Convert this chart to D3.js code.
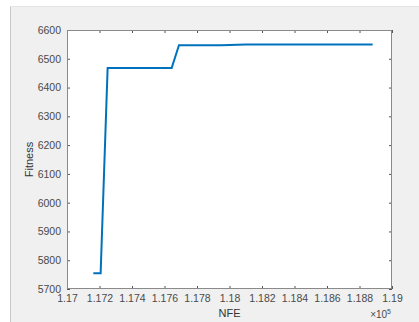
<!DOCTYPE html>
<html><head><meta charset="utf-8">
<script src="https://cdn.jsdelivr.net/npm/d3@7"></script>
<style>html,body{margin:0;padding:0;background:#fff;}svg{display:block;}</style>
</head><body>
<svg id="c" width="419" height="322"></svg>
<script>
const nfe     = [117162, 117207, 117250, 117644, 117689, 117950, 118100, 118881];
const fitness = [5755,   5755,   6468,   6468,   6547,   6547,   6550,   6550];
const xTicks = [1.17,1.172,1.174,1.176,1.178,1.18,1.182,1.184,1.186,1.188,1.19];
const yTicks = [5700,5800,5900,6000,6100,6200,6300,6400,6500,6600];
const xLabel = "NFE", yLabel = "Fitness";

const svg = d3.select("#c");
// figure background
svg.append("rect").attr("x",10).attr("y",6).attr("width",409).attr("height",316).attr("fill","#f0f0f0");
svg.append("line").attr("x1",10.5).attr("x2",10.5).attr("y1",6).attr("y2",322).attr("stroke","#c8c8c8");
svg.append("line").attr("x1",10).attr("x2",419).attr("y1",6.5).attr("y2",6.5).attr("stroke","#e4e4e4");

const L=67, R=392, T=30, B=289;
const x = d3.scaleLinear().domain([1.17,1.19]).range([L,R]);
const y = d3.scaleLinear().domain([5700,6600]).range([B,T]);

svg.append("rect").attr("x",L).attr("y",T).attr("width",R-L).attr("height",B-T).attr("fill","#fff");

const font = "'Liberation Sans', Arial, sans-serif";
const fmtX = d => String(+d.toFixed(3));
const styleAxis = g => {
  g.select(".domain").remove();
  g.selectAll(".tick line").attr("stroke","#555");
  g.selectAll(".tick text").attr("fill","#4a4a4a").style("font-family",font).style("font-size","10.5px");
};
svg.append("g").attr("transform",`translate(0,${B})`)
  .call(d3.axisBottom(x).tickValues(xTicks).tickFormat(fmtX).tickSizeInner(-3).tickSizeOuter(0).tickPadding(6))
  .call(styleAxis);
svg.append("g").attr("transform",`translate(0,${T})`)
  .call(d3.axisTop(x).tickValues(xTicks).tickFormat("").tickSizeInner(-3).tickSizeOuter(0))
  .call(styleAxis);
svg.append("g").attr("transform",`translate(${L},0)`)
  .call(d3.axisLeft(y).tickValues(yTicks).tickFormat(d3.format("d")).tickSizeInner(-3).tickSizeOuter(0).tickPadding(6))
  .call(styleAxis);
svg.append("g").attr("transform",`translate(${R},0)`)
  .call(d3.axisRight(y).tickValues(yTicks).tickFormat("").tickSizeInner(-3).tickSizeOuter(0))
  .call(styleAxis);

svg.append("rect").attr("x",L+0.5).attr("y",T+0.5).attr("width",R-L-1).attr("height",B-T-1)
  .attr("fill","none").attr("stroke","#8a8a8a").attr("stroke-width",1);

const pts = nfe.map((v,i)=>[v/1e5, fitness[i]]);
svg.append("path").datum(pts)
  .attr("fill","none").attr("stroke","#0072BD").attr("stroke-width",2).attr("stroke-linejoin","miter")
  .attr("d", d3.line().x(d=>x(d[0])).y(d=>y(d[1])));

svg.append("text").attr("x",(L+R)/2).attr("y",317).attr("text-anchor","middle")
  .attr("fill","#333").style("font-family",font).style("font-size","11px").text(xLabel);
svg.append("text").attr("transform",`translate(33,${(T+B)/2}) rotate(-90)`).attr("text-anchor","middle")
  .attr("fill","#333").style("font-family",font).style("font-size","11px").text(yLabel);
const ex = svg.append("text").attr("x",R-1).attr("y",318).attr("text-anchor","end")
  .attr("fill","#4a4a4a").style("font-family",font).style("font-size","10px");
ex.append("tspan").text("\u00d710");
ex.append("tspan").attr("dy",-4).style("font-size","7px").text("5");
</script>
</body></html>
